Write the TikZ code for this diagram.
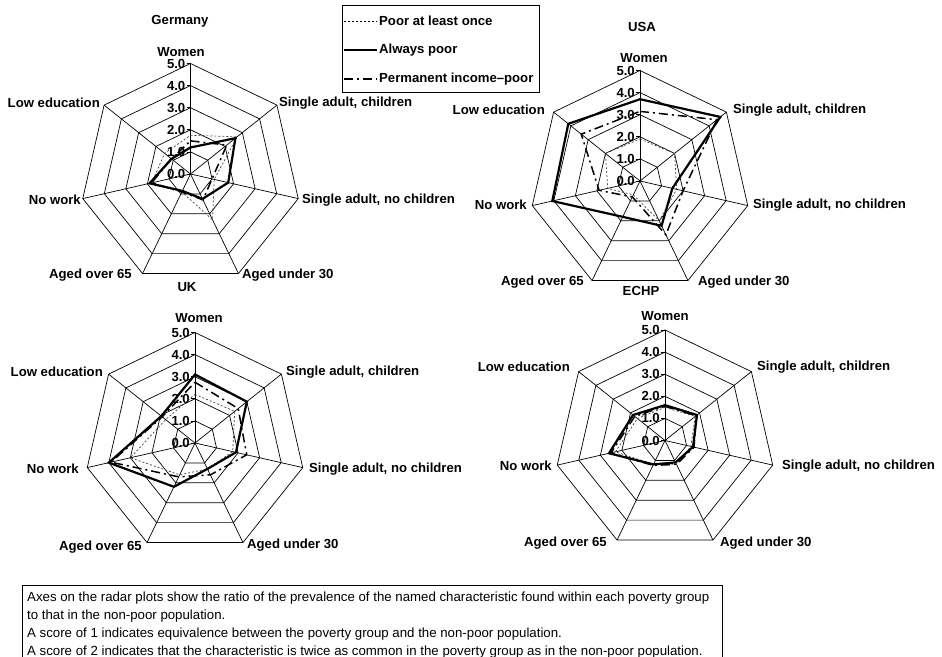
\documentclass[tikz,border=0pt]{standalone}
\usepackage{fontspec}
\setmainfont{Liberation Sans}
\newcommand\RU{22.1}
\newcommand\ser[8]{\draw[#1] (90:{#2*\RU}) -- ({90-360/7}:{#3*\RU}) -- ({90-720/7}:{#4*\RU}) -- ({90-1080/7}:{#5*\RU}) -- ({90-1440/7}:{#6*\RU}) -- ({90-1800/7}:{#7*\RU}) -- ({90-2160/7}:{#8*\RU}) -- cycle;}
\newcommand\radargrid[1]{%
  \foreach \k in {1,...,5}{\draw[gridline] (90:{\k*\RU}) \foreach \i in {1,...,6}{ -- ({90-\i*360/7}:{\k*\RU})} -- cycle;}
  \foreach \i in {0,...,6}{\draw[gridline] (0,0) -- ({90-\i*360/7}:{5*\RU});}
  \foreach \k in {0,...,5}{\draw[gridline] (-4,{\k*\RU}) -- (0,{\k*\RU});
    \node[lab,anchor=east] (#1t\k) at (-5,{\k*\RU}) {\k.0};}
}
\begin{document}
\begin{tikzpicture}[x=1bp,y=-1bp,
  lab/.style={font=\bfseries\fontsize{13.2}{15}\selectfont, inner sep=0pt},
  gridline/.style={line width=0.7bp, black},
  pooronce/.style={line width=0.7bp, dash pattern=on 2bp off 2bp, black!75},
  alwayspoor/.style={line width=2.2bp, black, line join=miter},
  permpoor/.style={line width=1.5bp, dash pattern=on 9bp off 4bp on 2bp off 4bp, black},
  notetext/.style={font=\fontsize{13.3}{15}\selectfont, inner sep=0pt, anchor=west}]
\useasboundingbox (0,0) rectangle (942,657);

% ---------- Germany ----------
\begin{scope}[shift={(190.5,174)}, yscale=-1]
  \radargrid{G}
  \ser{pooronce}{1.75}{2.7}{1.1}{2.3}{0.9}{1.8}{1.5}
  \ser{permpoor}{1.5}{2.1}{1.0}{1.3}{0.9}{1.8}{1.1}
  \ser{alwayspoor}{1.2}{2.6}{1.75}{1.25}{0.85}{1.9}{1.1}
\end{scope}
\node[lab] (gtitle) at (180,21) {Germany};
\node[lab] (gw) at (181,52) {Women};
\node[lab,anchor=east] (gle) at (100,103) {Low education};
\node[lab,anchor=west] (gsac) at (279,103) {Single adult, children};
\node[lab,anchor=west] (gsanc) at (302,200) {Single adult, no children};
\node[lab,anchor=west] (gau) at (242,275) {Aged under 30};
\node[lab,anchor=east] (gao) at (132,275) {Aged over 65};
\node[lab,anchor=east] (gnw) at (81,200) {No work};

% ---------- USA ----------
\begin{scope}[shift={(640,181)}, yscale=-1]
  \radargrid{U}
  \ser{pooronce}{1.9}{2.0}{1.7}{2.0}{0.7}{1.5}{2.0}
  \ser{permpoor}{3.15}{4.45}{2.0}{2.7}{0.8}{1.9}{3.4}
  \ser{alwayspoor}{3.7}{4.65}{1.5}{2.25}{1.8}{4.07}{4.15}
\end{scope}
\node[lab] (utitle) at (642,27) {USA};
\node[lab] (uw) at (644,58) {Women};
\node[lab,anchor=east] (ule) at (545,110) {Low education};
\node[lab,anchor=west] (usac) at (733,110) {Single adult, children};
\node[lab,anchor=west] (usanc) at (753,205) {Single adult, no children};
\node[lab,anchor=west] (uau) at (698,282) {Aged under 30};
\node[lab,anchor=east] (uao) at (584,282) {Aged over 65};
\node[lab,anchor=east] (unw) at (527,205) {No work};

% ---------- UK ----------
\begin{scope}[shift={(195,443)}, yscale=-1]
  \radargrid{K}
  \ser{pooronce}{2.2}{2.3}{1.75}{1.3}{1.6}{3.0}{1.7}
  \ser{permpoor}{2.75}{2.5}{2.4}{1.6}{1.7}{3.9}{1.9}
  \ser{alwayspoor}{3.1}{3.0}{1.9}{1.3}{2.2}{4.0}{1.95}
\end{scope}
\node[lab] (ktitle) at (187,287) {UK};
\node[lab] (kw) at (199,318) {Women};
\node[lab,anchor=east] (kle) at (103,372) {Low education};
\node[lab,anchor=west] (ksac) at (286,372) {Single adult, children};
\node[lab,anchor=west] (ksanc) at (309,469) {Single adult, no children};
\node[lab,anchor=west] (kau) at (247,545) {Aged under 30};
\node[lab,anchor=east] (kao) at (142,547) {Aged over 65};
\node[lab,anchor=east] (knw) at (79,469) {No work};

% ---------- ECHP ----------
\begin{scope}[shift={(665,440.5)}, yscale=-1]
  \radargrid{E}
  \ser{pooronce}{1.5}{1.75}{1.2}{1.2}{1.2}{2.3}{1.6}
  \ser{permpoor}{1.55}{1.8}{1.35}{1.2}{1.25}{2.5}{1.75}
  \ser{alwayspoor}{1.6}{1.85}{1.3}{1.1}{1.2}{2.6}{1.85}
\end{scope}
\node[lab] (etitle) at (641,291) {ECHP};
\node[lab] (ew) at (665,316) {Women};
\node[lab,anchor=east] (ele) at (570,367) {Low education};
\node[lab,anchor=west] (esac) at (757,367) {Single adult, children};
\node[lab,anchor=west] (esanc) at (782,466) {Single adult, no children};
\node[lab,anchor=west] (eau) at (720,543) {Aged under 30};
\node[lab,anchor=east] (eao) at (607,543) {Aged over 65};
\node[lab,anchor=east] (enw) at (552,466) {No work};

% ---------- Legend ----------
\draw[line width=0.8bp] (342,5) rectangle (539,92);
\coordinate (l1a) at (344,21); \coordinate (l1b) at (377,21);
\coordinate (l2a) at (344,50); \coordinate (l2b) at (377,50);
\coordinate (l3a) at (344,79); \coordinate (l3b) at (377,79);
\draw[pooronce, black] (l1a) -- (l1b);
\draw[alwayspoor] (l2a) -- (l2b);
\draw[permpoor] (l3a) -- (l3b);
\node[lab,anchor=west] (leg1) at (379,21) {Poor at least once};
\node[lab,anchor=west] (leg2) at (379,50) {Always poor};
\node[lab,anchor=west] (leg3) at (379,79) {Permanent income--poor};

% ---------- Note ----------
\draw[line width=0.8bp] (22,657) -- (22,585) -- (722,585) -- (722,657);
\node[notetext] (n1) at (27,598) {Axes on the radar plots show the ratio of the prevalence of the named characteristic found within each poverty group};
\node[notetext] (n2) at (27,616) {to that in the non-poor population.};
\node[notetext] (n3) at (27,634) {A score of 1 indicates equivalence between the poverty group and the non-poor population.};
\node[notetext] (n4) at (27,652) {A score of 2 indicates that the characteristic is twice as common in the poverty group as in the non-poor population.};
\end{tikzpicture}
\end{document}
